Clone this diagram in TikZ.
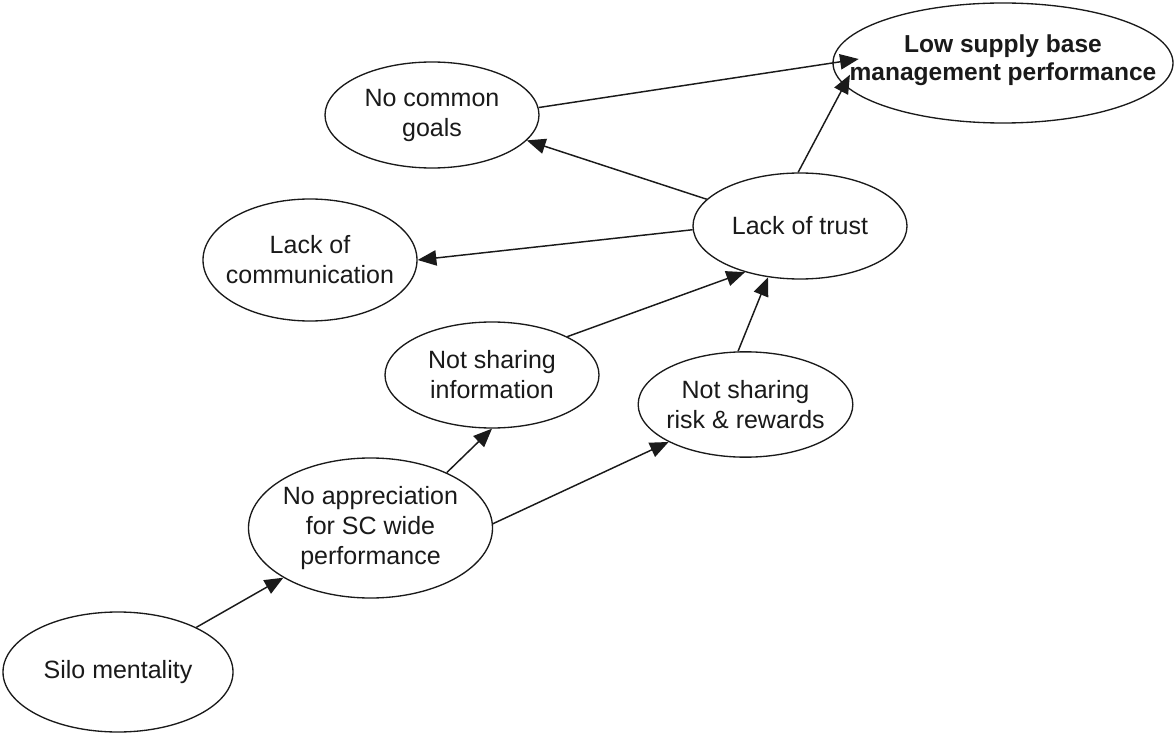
\documentclass[tikz,border=0pt]{standalone}
\usepackage{fontspec}
\setmainfont{Liberation Sans}
\usetikzlibrary{shapes.geometric,arrows.meta}
\definecolor{ink}{HTML}{1A1A1A}
\begin{document}
\begin{tikzpicture}[x=0.75pt,y=-0.75pt,
  blob/.style={draw=ink, line width=1pt, ellipse, inner sep=0pt, fill=white},
  lbl/.style={text=ink, align=center, font=\fontsize{18.75pt}{22.5pt}\selectfont},
  boldlbl/.style={lbl, font=\bfseries\fontsize{18.4pt}{20.5pt}\selectfont},
  arr/.style={draw=ink, line width=1.1pt, -{Triangle[length=14pt,width=11.5pt]}}]

% canvas
\fill[white] (0,0) rectangle (1174,734);
\useasboundingbox (0,0) rectangle (1174,734);

% factors
\node[blob, minimum width=255pt, minimum height=90pt,
      label={[boldlbl, yshift=2pt]center:Low supply base\\management performance}] (low) at (1003,63) {};
\node[blob, minimum width=160.5pt, minimum height=79.5pt,
      label={[lbl]center:No common\\goals}] (goals) at (432,115) {};
\node[blob, minimum width=160.5pt, minimum height=79.5pt,
      label={[lbl]center:Lack of trust}] (trust) at (800,226) {};
\node[blob, minimum width=160.5pt, minimum height=91.5pt,
      label={[lbl]center:Lack of\\communication}] (comm) at (310,260) {};
\node[blob, minimum width=160.5pt, minimum height=79.5pt,
      label={[lbl]center:Not sharing\\information}] (info) at (492,375) {};
\node[blob, minimum width=161pt, minimum height=79pt,
      label={[lbl]center:Not sharing\\risk \& rewards}] (risk) at (745.5,404.5) {};
\node[blob, minimum width=183pt, minimum height=105pt,
      label={[lbl]center:No appreciation\\for SC wide\\performance}] (appr) at (370.5,528) {};
\node[blob, minimum width=172.5pt, minimum height=90pt,
      label={[lbl]center:Silo mentality}] (silo) at (118,672) {};

% causal links
\draw[arr] (silo) -- (appr);
\draw[arr] (appr.36) -- (info.south);
\draw[arr] (appr.2) -- (risk.206);
\draw[arr] (info.27) -- (trust.220);
\draw[arr] (risk.98) -- (trust.238);
\draw[arr] (trust.164) -- (goals.345);
\draw[arr] (trust.182) -- (comm.east);
\draw[arr, shorten >=-9pt] (trust.92) -- (low.188);
\draw[arr, shorten >=-20pt] (goals.4) -- (low.west);
\end{tikzpicture}
\end{document}
